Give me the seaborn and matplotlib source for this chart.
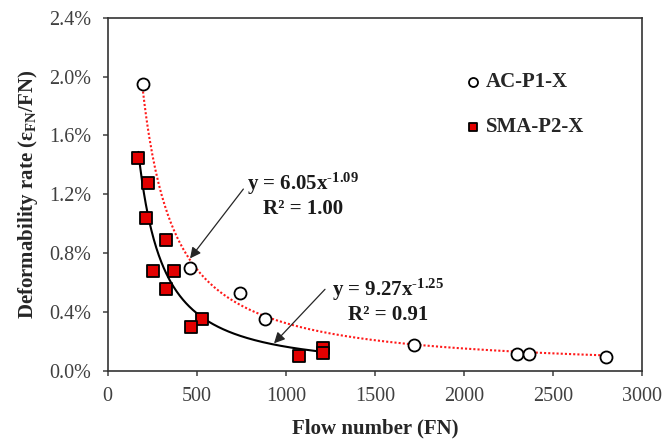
import numpy as np
import pandas as pd
import matplotlib
matplotlib.use("Agg")
import matplotlib.pyplot as plt
import seaborn as sns
from matplotlib.ticker import FuncFormatter, MultipleLocator

# ---- data ----
ac_fn = [198, 462, 742, 882, 1719, 2297, 2364, 2796]
ac_rate = [1.95, 0.70, 0.53, 0.35, 0.175, 0.118, 0.118, 0.095]      # percent
sma_fn = [172, 228, 215, 327, 252, 370, 327, 527, 466, 1075, 1210, 1206]
sma_rate = [1.45, 1.28, 1.04, 0.89, 0.68, 0.68, 0.555, 0.351, 0.297, 0.102, 0.154, 0.12]
series_names = ["AC-P1-X", "SMA-P2-X"]
# power trend lines y = a * x^b (rate as fraction), from the chart labels
ac_fit = (6.05, -1.09)
sma_fit = (9.27, -1.25)
ac_fit_label = "y = 6.05x$^{\\mathbf{\\text{-}1.09}}$\nR² = 1.00"
sma_fit_label = "y = 9.27x$^{\\mathbf{\\text{-}1.25}}$\nR² = 0.91"
x_ticks = [0, 500, 1000, 1500, 2000, 2500, 3000]

sns.set_style("ticks")
plt.rcParams["font.family"] = ["Liberation Serif", "DejaVu Serif"]
plt.rcParams["mathtext.fontset"] = "custom"
plt.rcParams["mathtext.rm"] = "Liberation Serif:bold"
plt.rcParams["mathtext.it"] = "Liberation Serif:italic"
plt.rcParams["mathtext.bf"] = "Liberation Serif:bold"

df = pd.DataFrame({
    "FN": ac_fn + sma_fn,
    "rate": ac_rate + sma_rate,
    "series": [series_names[0]] * len(ac_fn) + [series_names[1]] * len(sma_fn),
})

def trend(xs, coef):
    xg = np.linspace(min(xs), max(xs), 300)
    return pd.DataFrame({"FN": xg, "rate": coef[0] * xg ** coef[1] * 100})

ac_tr = trend(ac_fn, ac_fit)
sma_tr = trend(sma_fn, sma_fit)

fig = plt.figure(figsize=(6.64, 4.40), dpi=100)
ax = fig.add_axes([0.1622, 0.1568, 0.8054, 0.8030])

sns.lineplot(data=ac_tr, x="FN", y="rate", ax=ax, color="#ff1a1a",
             linestyle=(0, (1, 1)), lw=1.5, legend=False, zorder=2)
sns.lineplot(data=sma_tr, x="FN", y="rate", ax=ax, color="black",
             lw=1.5, legend=False, zorder=2)

sns.scatterplot(data=df[df.series == series_names[0]], x="FN", y="rate", ax=ax,
                marker="o", s=75, facecolor="white", edgecolor="black",
                linewidth=1.3, label=series_names[0], zorder=3)
sns.scatterplot(data=df[df.series == series_names[1]], x="FN", y="rate", ax=ax,
                marker="s", s=65, color="#e30000", edgecolor="black",
                linewidth=1.3, label=series_names[1], zorder=3)

ax.set_xlim(0, 3000)
ax.set_ylim(0, 2.4)
ax.set_xticks(x_ticks)
ax.yaxis.set_major_locator(MultipleLocator(0.4))
ax.yaxis.set_major_formatter(FuncFormatter(lambda v, p: f"{v:.1f}%"))
ax.tick_params(direction="out", length=3.6, width=1.1, labelsize=14.5, pad=8,
               labelcolor="#404040", color="#404040")
for s in ax.spines.values():
    s.set_linewidth(1.2)
    s.set_color("#333333")

ax.set_xlabel("Flow number (FN)", fontsize=15, fontweight="bold", labelpad=9)
ax.set_ylabel("Deformability rate ($\\mathbf{ε_{FN}}$/FN)", fontsize=15,
              fontweight="bold", labelpad=7)

# arrows and trend labels
arrow = dict(arrowstyle="-|>", color="#262626", lw=0.9, mutation_scale=16,
             shrinkA=0, shrinkB=0)
ax.annotate("", xy=(462, 0.765), xytext=(761, 1.236), arrowprops=arrow)
ax.annotate("", xy=(933, 0.188), xytext=(1219, 0.555), arrowprops=arrow)
ax.text(1096, 1.195, ac_fit_label, ha="center", va="center", fontsize=15,
        fontweight="bold", color="#1a1a1a", linespacing=1.15)
ax.text(1573, 0.475, sma_fit_label, ha="center", va="center", fontsize=15,
        fontweight="bold", color="#1a1a1a", linespacing=1.15)

leg = ax.legend(loc="upper left", bbox_to_anchor=(0.672, 0.845), frameon=False,
                prop={"family": "Liberation Serif", "weight": "bold", "size": 15},
                handlelength=0.6, handletextpad=0.3, labelspacing=1.2,
                borderpad=0, borderaxespad=0, markerscale=0.75)

fig.savefig("out.png", dpi=100)
